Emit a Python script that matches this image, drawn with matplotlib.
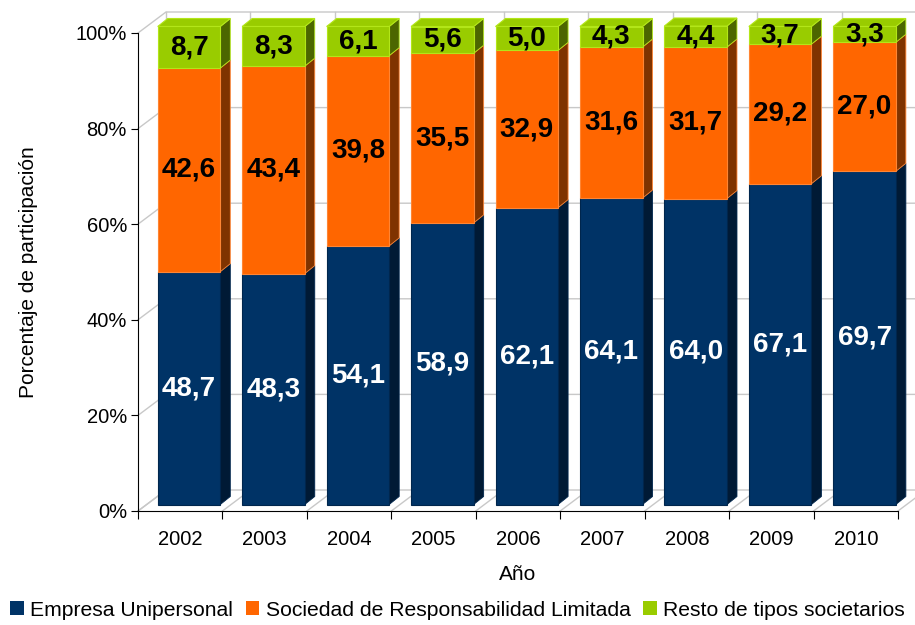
import matplotlib.pyplot as plt
import matplotlib.transforms as mtransforms
from matplotlib.patches import Polygon, Patch

plt.rcParams['font.family'] = ['Liberation Sans', 'DejaVu Sans']

years = ['2002', '2003', '2004', '2005', '2006', '2007', '2008', '2009', '2010']
empresa_unipersonal = [48.7, 48.3, 54.1, 58.9, 62.1, 64.1, 64.0, 67.1, 69.7]
sociedad_rl = [42.6, 43.4, 39.8, 35.5, 32.9, 31.6, 31.7, 29.2, 27.0]
resto = [8.7, 8.3, 6.1, 5.6, 5.0, 4.3, 4.4, 3.7, 3.3]
series_names = ['Empresa Unipersonal', 'Sociedad de Responsabilidad Limitada',
                'Resto de tipos societarios']
yticks = [0, 20, 40, 60, 80, 100]

front_col = ['#003366', '#ff6600', '#99cc00']
side_col = ['#001a35', '#7f3300', '#4c6600']
edge_col = ['#00264d', '#ff8533', '#b3e619']
text_col = ['white', 'black', 'black']

fig = plt.figure(figsize=(9.15, 6.25), dpi=100)
W_px, H_px = 760, 478
ax = fig.add_axes([138 / 915, 1 - 511 / 625, W_px / 915, H_px / 625])
ax.set_xlim(0, len(years))
ax.set_ylim(0, 100)
ux = len(years) / W_px   # data units per pixel
uy = 100 / H_px


def off(dx, dy):
    return ax.transData + mtransforms.ScaledTranslation(dx / 100, dy / 100, fig.dpi_scale_trans)


# back wall / floor grid (3d look)
bx, by = 28 * ux, 21 * uy
grid_c = '#c8c8c8'
n = len(years)
for y in yticks:
    ax.plot([0, bx, n + bx + 1], [y, y + by, y + by], color=grid_c, lw=1,
            clip_on=False, zorder=0.5)
for k in range(n + 1):
    ax.plot([k + bx, k + bx], [by, 100 + by], color=grid_c, lw=1, clip_on=False, zorder=0.5)
    ax.plot([k, k + bx], [0, by], color=grid_c, lw=1, clip_on=False, zorder=0.5)

# bars
bar_t = off(8.8, 6.5)
dxd, dyd = 10 * ux, 8 * uy
width = 0.741
xs = [i + 0.5 for i in range(n)]
series = [empresa_unipersonal, sociedad_rl, resto]
bottoms = [0.0] * n
for s, vals in enumerate(series):
    ax.bar(xs, vals, width=width, bottom=bottoms, color=front_col[s],
           edgecolor=edge_col[s], linewidth=0.8, transform=bar_t, zorder=3,
           clip_on=False)
    for i, v in enumerate(vals):
        b, t = bottoms[i], bottoms[i] + v
        x0, x1 = xs[i] - width / 2, xs[i] + width / 2
        ax.add_patch(Polygon([(x1, b), (x1 + dxd, b + dyd), (x1 + dxd, t + dyd), (x1, t)],
                             closed=True, facecolor=side_col[s], edgecolor=edge_col[s],
                             lw=0.6, transform=bar_t, zorder=2.9, clip_on=False))
        if s == len(series) - 1:
            ax.add_patch(Polygon([(x0, t), (x1, t), (x1 + dxd, t + dyd), (x0 + dxd, t + dyd)],
                                 closed=True, facecolor=front_col[s], edgecolor=edge_col[s],
                                 lw=0.8, transform=bar_t, zorder=2.9, clip_on=False))
        ax.text(xs[i], b + v / 2, f"{v:.1f}".replace('.', ','), transform=bar_t,
                ha='center', va='center', fontsize=20, fontweight='bold',
                color=text_col[s], zorder=4)
    bottoms = [bottoms[i] + vals[i] for i in range(n)]

# axes
for sp in ['top', 'right']:
    ax.spines[sp].set_visible(False)
ax.spines['left'].set_color('black')
ax.spines['bottom'].set_color('black')
ax.set_yticks(yticks)
ax.set_yticklabels([f"{y}%" for y in yticks])
ax.set_xticks(range(n + 1))
ax.set_xticklabels([])
ax.set_xticks(xs, minor=True)
ax.set_xticklabels(years, minor=True)
ax.tick_params(axis='x', which='major', length=6, direction='out')
ax.tick_params(axis='x', which='minor', length=0, pad=14, labelsize=14.5)
ax.tick_params(axis='y', length=5, direction='out', labelsize=14.5, pad=3)
ax.set_xlabel('Año', fontsize=15, labelpad=11)
ax.set_ylabel('Porcentaje de participación', fontsize=15, labelpad=27)

handles = [Patch(facecolor=front_col[s], edgecolor='none') for s in range(3)]
fig.legend(handles, series_names, loc='lower center', bbox_to_anchor=(0.5, -0.022), ncol=3,
           frameon=False, fontsize=15.2, handlelength=0.65, handleheight=0.65,
           handletextpad=0.3, columnspacing=0.6)

fig.savefig('out.png', dpi=100)
